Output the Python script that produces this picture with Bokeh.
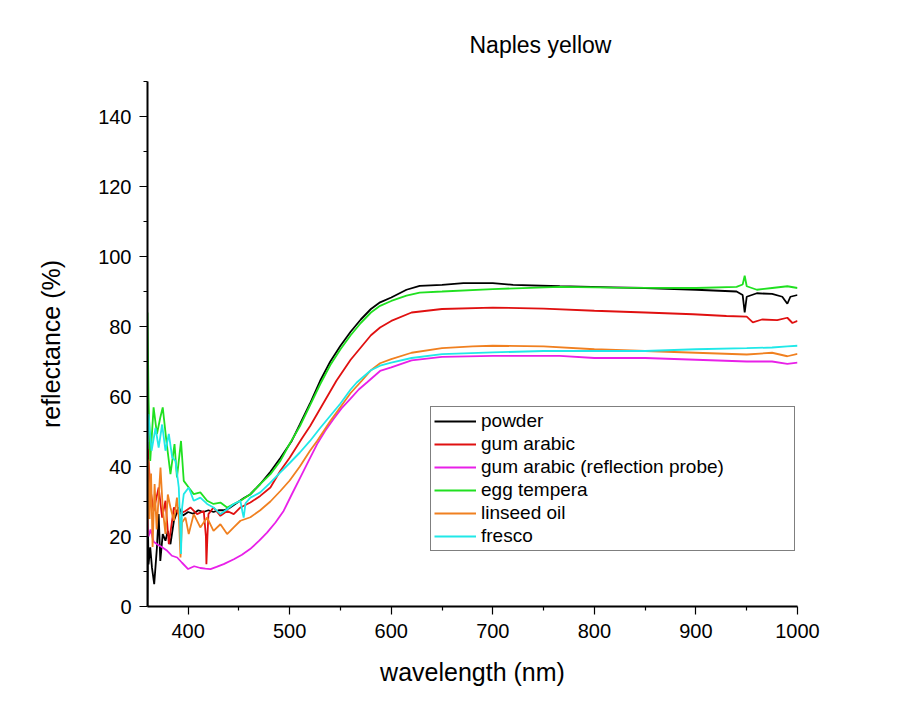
from bokeh.plotting import figure
from bokeh.models import Range1d, FixedTicker, Legend, LegendItem
from bokeh.embed import file_html
from bokeh.resources import INLINE

# ---- data ----
powder_wl = [360, 360.5, 361, 362.7, 364.4, 366.6, 369.3, 371, 372.6, 375, 377.7, 380, 382.6, 386, 390.8,
             395, 400, 405, 410, 415, 420, 425, 430, 435, 440, 445, 450, 455, 461, 471, 481, 491, 502, 510,
             520, 530, 540, 550, 560, 570, 580, 589, 600, 615, 628, 650, 671, 700, 720, 766, 818, 850, 900,
             940, 946, 948, 950, 960, 975, 985, 990, 993, 1000]
powder_r = [0, 22, 12, 16.9, 11.1, 6.4, 16.9, 26.4, 13, 20.7, 18.8, 21.6, 17.8, 24.5, 28.3,
            26, 27, 26.5, 27.5, 27, 27.5, 27, 27.5, 27.5, 28, 29, 30, 31, 32, 35, 38.5, 42.5, 47.3, 52,
            58, 64.5, 70, 74.5, 78.5, 82, 85, 86.9, 88.3, 90.5, 91.6, 91.9, 92.4, 92.4, 91.9, 91.5, 91.2, 91, 90.5,
            90, 89, 84, 88.5, 89.5, 89.3, 88.5, 86.5, 88.5, 89]

gum_wl = [360, 362.7, 366, 371, 374.4, 377.7, 381, 386, 390.8, 397.4, 402.3, 408.8, 415.4, 417.5, 418, 419,
          420, 425, 431.8, 438.4, 444.9, 451.5, 461.3, 471, 481, 490.8, 500, 512, 520, 530, 546, 560, 570,
          580, 589, 600, 620, 650, 700, 750, 800, 850, 897, 930, 950, 956, 965, 980, 990, 995, 1000]
gum_r = [47, 34, 27.3, 34, 25.4, 30.2, 17.8, 28.3, 26.4, 27.3, 28.3, 26.4, 27.3, 20, 12.1, 20,
         26.4, 28.3, 25.9, 27.3, 26.4, 28.3, 29.7, 31.6, 34, 38.8, 42.5, 48, 51.5, 56.5, 64.5, 70.5, 74,
         77.5, 79.7, 81.6, 84, 85, 85.4, 85.1, 84.5, 84, 83.5, 83, 82.8, 81.2, 82, 81.8, 82.5, 81, 81.6]

probe_wl = [360, 361, 363, 366, 369.5, 374, 379.4, 384, 389.2, 394, 400, 406, 412, 417, 422, 428, 435, 445,
            453, 461, 470, 477.7, 486, 494, 502, 510.5, 519, 527, 535, 543, 551, 559.7, 568, 576, 589, 600,
            620, 650, 700, 766, 800, 850, 900, 950, 975, 990, 1000]
probe_r = [25, 20, 22, 18.5, 17.8, 17, 15.9, 14.5, 14, 12.5, 10.7, 11.5, 11, 10.8, 10.7, 11.3, 12.1, 13.5,
           14.8, 16.4, 18.8, 21.1, 24, 27.3, 32, 36.9, 41.8, 46.4, 50.2, 53.5, 56.6, 59.3, 62, 64, 67.3, 68.3,
           70.3, 71.3, 71.6, 71.6, 71, 71, 70.5, 70, 70, 69.3, 69.7]

egg_wl = [360, 361, 362.7, 366, 369.3, 372.6, 375, 378.6, 382.6, 386.6, 389, 393, 395.7, 400.6, 405.5, 412,
          418.7, 425, 431.8, 438.4, 444.9, 451.5, 461.3, 471, 481, 490.8, 500, 510, 520, 530, 540, 550, 560,
          570, 580, 589, 600, 615, 628, 650, 700, 766, 818, 900, 940, 946, 948, 950, 960, 975, 990, 1000]
egg_r = [84, 60, 41.6, 56.9, 49.3, 54, 56.9, 47.3, 37.8, 46.4, 36.9, 47.3, 35.9, 34, 32.1, 32.6,
         30.2, 29.3, 29.7, 28.3, 29.3, 30.2, 32.1, 35, 37.8, 41.6, 46.5, 51.5, 57.5, 63.5, 69, 73.5, 77.5,
         81, 84, 85.9, 87.3, 88.8, 89.7, 90, 90.7, 91.3, 91.1, 91, 91.3, 92, 94.5, 91.5, 90.5, 91, 91.5, 91]

oil_wl = [360, 361, 362, 363.5, 365, 367, 369, 372.8, 375, 377.7, 380, 382.6, 386, 389, 391, 392.5, 394,
          397.4, 400.6, 405.5, 412, 418.7, 425, 431.8, 438.4, 444.9, 451.5, 461.3, 471, 481, 490.8, 500, 510,
          520, 527, 540, 550, 560, 571, 580, 589, 600, 620, 650, 680, 700, 750, 800, 850, 900, 950, 975, 990, 1000]
oil_r = [20, 42, 25, 38, 17, 35, 22, 39.7, 28, 20.7, 32, 28.3, 24.5, 31.1, 25, 14, 24,
         25.4, 20.7, 26.4, 22.6, 25.4, 21.6, 23.5, 20.7, 22.6, 24.5, 25.5, 27.5, 30, 33, 36, 40,
         44.5, 47.3, 53, 57, 61, 64.5, 67.5, 69.5, 70.7, 72.5, 73.8, 74.3, 74.5, 74.3, 73.5, 73, 72.5, 72, 72.5, 71.5, 72.2]

fresco_wl = [360, 361, 364, 367.9, 371, 374.4, 377.7, 381, 384.3, 387.5, 390.8, 392, 393, 394, 395.7, 400.6,
             405.5, 412, 418.7, 425, 431.8, 438.4, 444.9, 451.5, 453.5, 454.7, 456.5, 461.3, 471, 481, 490.8,
             500, 510, 520, 530, 540, 550, 560, 566, 580, 589, 600, 620, 650, 700, 750, 800, 850, 900, 950,
             975, 990, 1000]
fresco_r = [45, 55, 44.5, 51, 45.4, 52, 44.5, 49.3, 42.6, 41.6, 34, 25, 15, 28, 32.1, 34,
            30.2, 31.1, 29.3, 28.3, 26.4, 27.8, 29.3, 30.2, 27, 25.4, 29.5, 31.1, 32.6, 35.4, 38.3,
            41, 44, 47.3, 51, 54.5, 58, 62, 64, 67.5, 68.8, 69.7, 71, 72.1, 72.6, 73, 73, 73, 73.5, 73.8,
            74, 74.3, 74.5]

series_names = ["powder", "gum arabic", "gum arabic (reflection probe)", "egg tempera", "linseed oil", "fresco"]
series_wl = [powder_wl, gum_wl, probe_wl, egg_wl, oil_wl, fresco_wl]
series_r = [powder_r, gum_r, probe_r, egg_r, oil_r, fresco_r]
series_colors = ["#000000", "#e01010", "#e820e8", "#20e020", "#f08020", "#20e8e8"]

x_ticks = [400, 500, 600, 700, 800, 900, 1000]
x_minor = [450, 550, 650, 750, 850, 950]
y_ticks = [0, 20, 40, 60, 80, 100, 120, 140]
y_minor = [10, 30, 50, 70, 90, 110, 130, 150]

FONT = "Liberation Sans"

p = figure(width=914, height=708, output_backend="svg", toolbar_location=None,
           x_range=Range1d(360, 1000), y_range=Range1d(0, 150),
           min_border_left=147, min_border_right=117, min_border_top=81, min_border_bottom=102)
p.outline_line_color = None
p.xgrid.visible = False
p.ygrid.visible = False
p.background_fill_color = "white"
p.border_fill_color = "white"

p.title.text = "Naples yellow"
p.title.text_font = FONT
p.title.text_font_size = "23px"
p.title.text_font_style = "normal"
p.title.text_color = "black"
p.title.align = "left"
p.title.offset = 322
p.title.standoff = 47

renderers = []
for wl, r, c in zip(series_wl, series_r, series_colors):
    renderers.append(p.line(wl, r, line_color=c, line_width=1.8))

for ax, ticks, minor in ((p.xaxis[0], x_ticks, x_minor), (p.yaxis[0], y_ticks, y_minor)):
    ax.ticker = FixedTicker(ticks=ticks, minor_ticks=minor)
    ax.axis_line_width = 2
    ax.axis_line_color = "black"
    ax.major_tick_in = 0
    ax.major_tick_out = 8
    ax.minor_tick_in = 0
    ax.minor_tick_out = 4
    ax.major_tick_line_width = 1.2
    ax.minor_tick_line_width = 1.2
    ax.major_label_text_font = FONT
    ax.major_label_text_font_size = "20px"
    ax.major_label_text_color = "black"
    ax.axis_label_text_font = FONT
    ax.axis_label_text_font_size = "25px"
    ax.axis_label_text_font_style = "normal"
    ax.axis_label_text_color = "black"

p.xaxis.axis_label = "wavelength (nm)"
p.yaxis.axis_label = "reflectance (%)"
p.xaxis.major_label_standoff = 9
p.yaxis.major_label_standoff = 8
p.xaxis.axis_label_standoff = 17
p.yaxis.axis_label_standoff = 30

legend = Legend(items=[LegendItem(label=n, renderers=[r]) for n, r in zip(series_names, renderers)],
                location=(283, 55))
legend.label_text_font = FONT
legend.label_text_font_size = "19px"
legend.label_text_color = "black"
legend.glyph_width = 42
legend.glyph_height = 20
legend.label_height = 20
legend.label_width = 310
legend.label_standoff = 5
legend.spacing = 1
legend.padding = 3
legend.margin = 0
legend.border_line_color = "black"
legend.border_line_width = 1
legend.background_fill_color = "white"
legend.background_fill_alpha = 1
p.add_layout(legend, "center")

open("out.html", "w").write(file_html(p, INLINE))
